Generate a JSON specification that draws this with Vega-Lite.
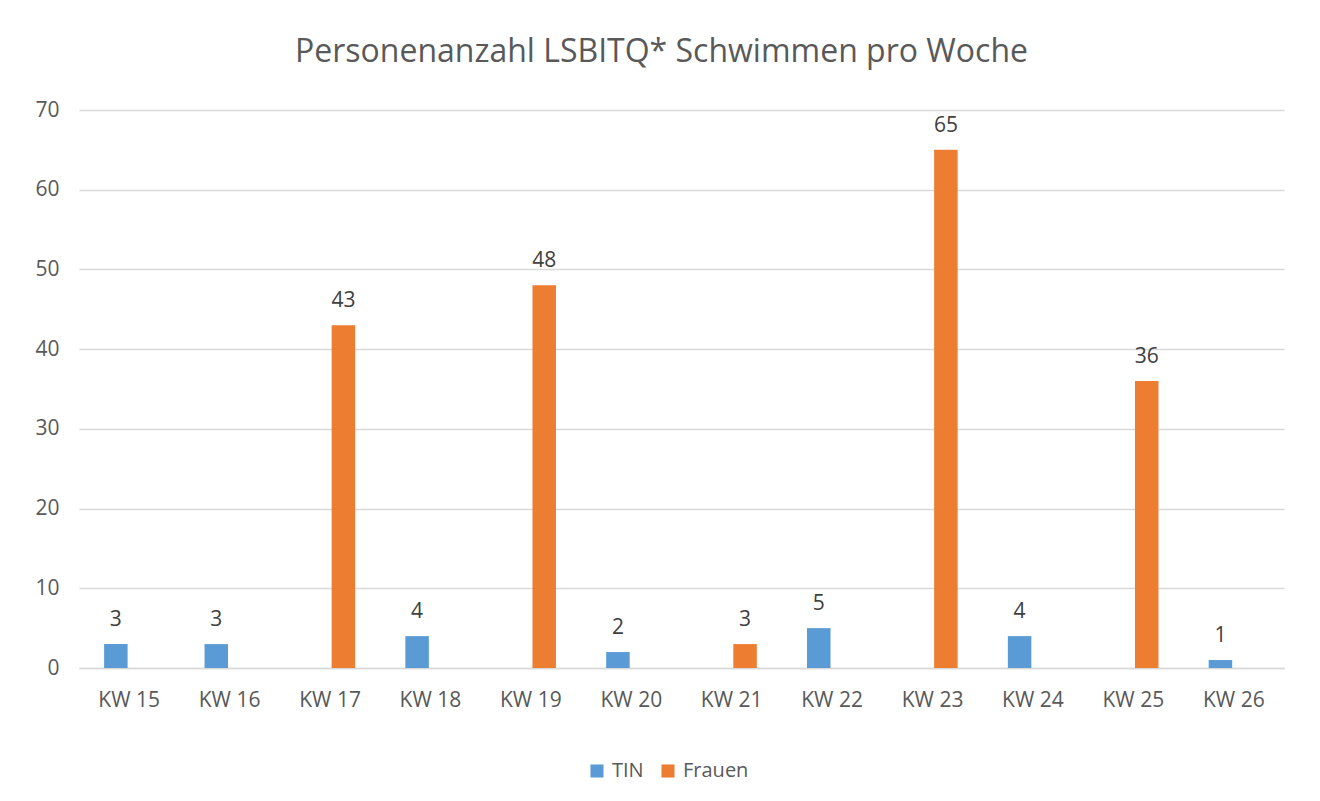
{
  "$schema": "https://vega.github.io/schema/vega-lite/v6.json",
  "autosize": {"type": "none"},
  "padding": {"left": 79, "top": 110, "right": 36, "bottom": 133},
  "width": 1205,
  "height": 558,
  "background": "white",
  "title": {
    "text": "Personenanzahl LSBITQ* Schwimmen pro Woche",
    "font": "Open Sans",
    "fontSize": 32,
    "fontWeight": "normal",
    "color": "#595959",
    "anchor": "middle",
    "dx": -20,
    "offset": 30
  },
  "data": {
    "values": [
      {"woche": "KW 15", "gruppe": "TIN", "anzahl": 3},
      {"woche": "KW 16", "gruppe": "TIN", "anzahl": 3},
      {"woche": "KW 17", "gruppe": "Frauen", "anzahl": 43},
      {"woche": "KW 18", "gruppe": "TIN", "anzahl": 4},
      {"woche": "KW 19", "gruppe": "Frauen", "anzahl": 48},
      {"woche": "KW 20", "gruppe": "TIN", "anzahl": 2},
      {"woche": "KW 21", "gruppe": "Frauen", "anzahl": 3},
      {"woche": "KW 22", "gruppe": "TIN", "anzahl": 5},
      {"woche": "KW 23", "gruppe": "Frauen", "anzahl": 65},
      {"woche": "KW 24", "gruppe": "TIN", "anzahl": 4},
      {"woche": "KW 25", "gruppe": "Frauen", "anzahl": 36},
      {"woche": "KW 26", "gruppe": "TIN", "anzahl": 1}
    ]
  },
  "encoding": {
    "x": {
      "field": "woche",
      "type": "nominal",
      "sort": null,
      "scale": {"paddingInner": 0.5, "paddingOuter": 0.25},
      "axis": {
        "title": null,
        "labelAngle": 0,
        "labelFont": "Open Sans",
        "labelFontSize": 21,
        "labelColor": "#595959",
        "labelPadding": 21,
        "ticks": false,
        "domainColor": "#d9d9d9",
        "domainWidth": 1.5
      }
    },
    "xOffset": {
      "field": "gruppe",
      "type": "nominal",
      "scale": {"domain": ["TIN", "Frauen"], "paddingInner": 0.12}
    },
    "y": {
      "field": "anzahl",
      "type": "quantitative",
      "scale": {"domain": [0, 70]},
      "axis": {
        "title": null,
        "values": [0, 10, 20, 30, 40, 50, 60, 70],
        "labelFont": "Open Sans",
        "labelFontSize": 21,
        "labelColor": "#595959",
        "labelPadding": 20,
        "ticks": false,
        "domain": false,
        "gridColor": "#d9d9d9",
        "gridWidth": 1.5
      }
    }
  },
  "layer": [
    {
      "mark": {"type": "bar"},
      "encoding": {
        "color": {
          "field": "gruppe",
          "type": "nominal",
          "scale": {"domain": ["TIN", "Frauen"], "range": ["#5B9BD5", "#ED7D31"]},
          "legend": {
            "title": null,
            "orient": "none",
            "direction": "horizontal",
            "legendX": 508,
            "legendY": 651,
            "symbolType": "square",
            "symbolSize": 170,
            "symbolStrokeWidth": 0,
            "labelFont": "Open Sans",
            "labelFontSize": 20,
            "labelColor": "#595959",
            "labelOffset": 5,
            "columnPadding": 14
          }
        }
      }
    },
    {
      "mark": {
        "type": "text",
        "baseline": "alphabetic",
        "dy": -18,
        "font": "Open Sans",
        "fontSize": 21,
        "color": "#404040"
      },
      "encoding": {
        "text": {"field": "anzahl", "type": "quantitative"}
      }
    }
  ],
  "config": {
    "view": {"stroke": null}
  }
}
